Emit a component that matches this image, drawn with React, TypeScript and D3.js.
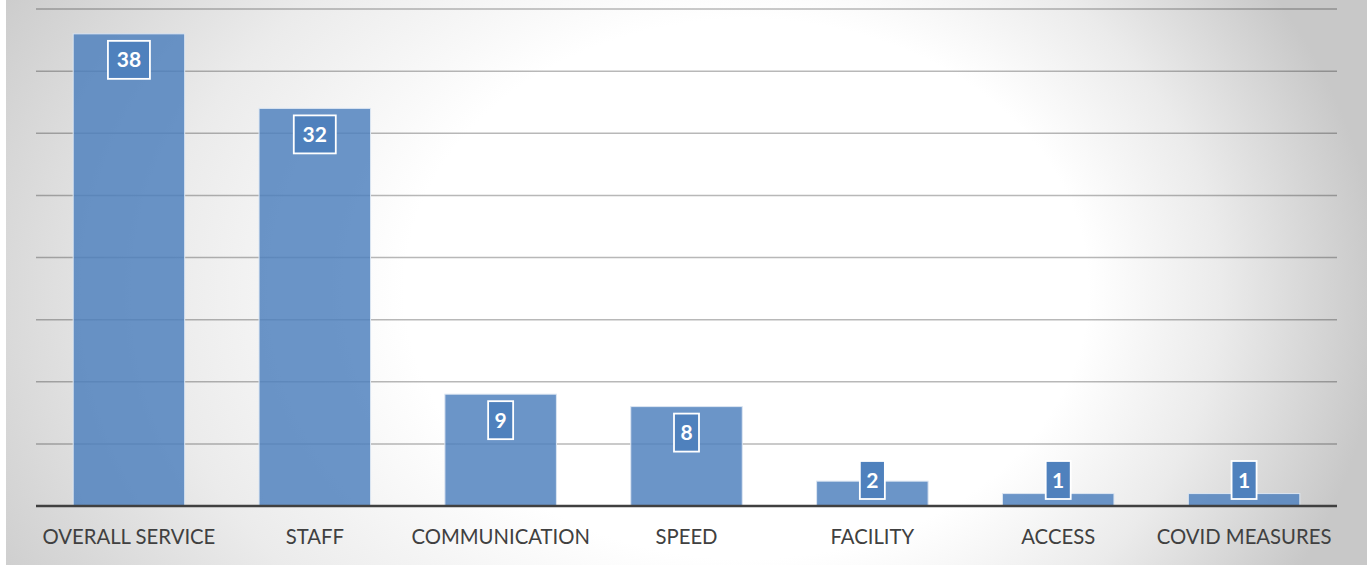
import React from "react";
import * as d3 from "d3";

const categories = ["OVERALL SERVICE", "STAFF", "COMMUNICATION", "SPEED", "FACILITY", "ACCESS", "COVID MEASURES"];
const values = [38, 32, 9, 8, 2, 1, 1];
const yTicks = [5, 10, 15, 20, 25, 30, 35, 40];

const W = 1370;
const H = 565;
const bg = { x0: 6, y0: 0, x1: 1367, y1: 565 };
const ell = { cx: 620, cy: 300, rx: 760, ry: 600 };
const focal = { x: 850, y: 280 };
const plot = { left: 36, right: 1337, top: 9, bottom: 506 };

export default function App() {
  const x = d3.scaleBand<string>().domain(categories).range([plot.left, plot.right]).paddingInner(0.4).paddingOuter(0.2);
  const y = d3.scaleLinear().domain([0, 40]).range([plot.bottom, plot.top]);

  const fxn = (focal.x - ell.cx) / ell.rx;
  const fyn = (focal.y - ell.cy) / ell.ry;

  return (
    <svg width={W} height={H} style={{ display: "block", position: "absolute", left: 0, top: 0 }}>
      <defs>
        <radialGradient
          id="bgGrad"
          gradientUnits="userSpaceOnUse"
          cx={0}
          cy={0}
          r={1}
          fx={fxn}
          fy={fyn}
          gradientTransform={`translate(${ell.cx},${ell.cy}) scale(${ell.rx},${ell.ry})`}
        >
          <stop offset="0" stopColor="#ffffff" />
          <stop offset="0.45" stopColor="#ffffff" />
          <stop offset="0.7" stopColor="#ebebeb" />
          <stop offset="1" stopColor="#c8c8c8" />
        </radialGradient>
      </defs>
      <rect x={0} y={0} width={W} height={H} fill="#ffffff" />
      <rect x={bg.x0} y={bg.y0} width={bg.x1 - bg.x0} height={bg.y1 - bg.y0} fill="url(#bgGrad)" />
      {yTicks.map((v) => (
        <line key={v} x1={plot.left} x2={plot.right} y1={y(v)} y2={y(v)} stroke="#000" strokeOpacity={0.28} strokeWidth={1.5} />
      ))}
      {categories.map((c, i) => (
        <rect
          key={c}
          x={x(c)}
          y={y(values[i])}
          width={x.bandwidth()}
          height={y(0) - y(values[i])}
          fill="#4F81BD"
          fillOpacity={0.84}
          stroke="#dce6f2"
          strokeWidth={1}
        />
      ))}
      <line x1={plot.left} x2={plot.right} y1={plot.bottom} y2={plot.bottom} stroke="#404040" strokeWidth={2.5} />
      {categories.map((c, i) => {
        const cx = (x(c) as number) + x.bandwidth() / 2;
        const label = String(values[i]);
        const bw = 17 * label.length + 8;
        const bh = 38;
        const by = Math.min(y(values[i]) + 7, plot.bottom - 7 - bh);
        return (
          <g key={c}>
            <rect x={cx - bw / 2} y={by} width={bw} height={bh} fill="#4F81BD" stroke="#ffffff" strokeWidth={1.8} />
            <text x={cx} y={by + bh / 2} dy="0.36em" textAnchor="middle" fill="#ffffff" fontFamily="Lato, 'Open Sans', sans-serif" fontWeight={700} fontSize={21}>
              {label}
            </text>
          </g>
        );
      })}
      {categories.map((c) => (
        <text
          key={c}
          x={(x(c) as number) + x.bandwidth() / 2}
          y={537}
          dy="0.36em"
          textAnchor="middle"
          fill="#404040"
          fontFamily="Lato, 'Open Sans', sans-serif"
          fontSize={20.3}
        >
          {c}
        </text>
      ))}
    </svg>
  );
}
